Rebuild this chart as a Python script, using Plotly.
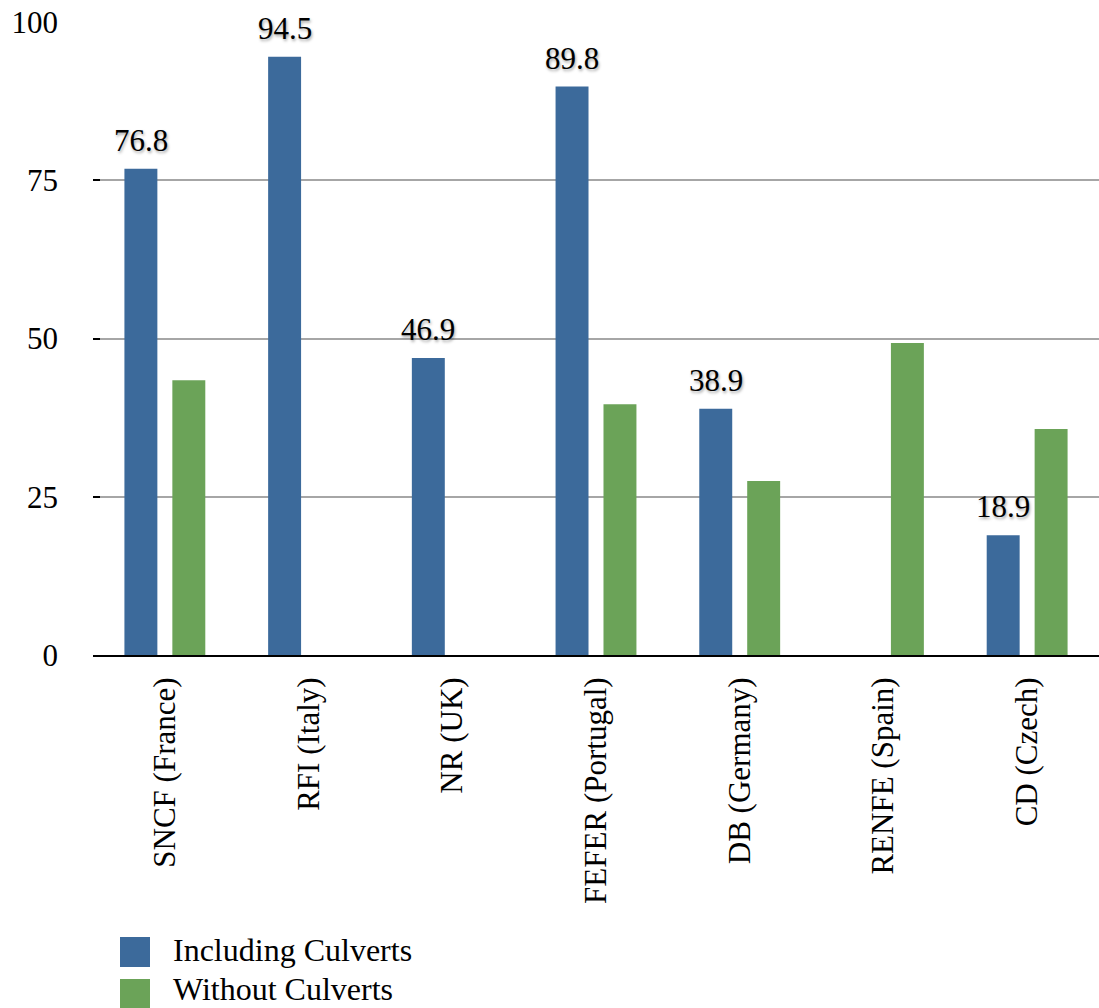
import plotly.graph_objects as go

categories = ["SNCF (France)", "RFI (Italy)", "NR (UK)", "FEFER (Portugal)",
              "DB (Germany)", "RENFE (Spain)", "CD (Czech)"]
including_culverts = [76.8, 94.5, 46.9, 89.8, 38.9, None, 18.9]
without_culverts = [43.4, None, None, 39.6, 27.5, 49.3, 35.7]
series_names = ["Including Culverts", "Without Culverts"]
y_ticks = [0, 25, 50, 75, 100]

BLUE = "#3c6a9b"
GREEN = "#6ba358"
FONT = "Liberation Serif, Times New Roman, serif"

W, H = 1099, 1008
ML, MR, MT, MB = 93, 0, 22, 353
PW, PH = W - ML - MR, H - MT - MB

fig = go.Figure()
fig.add_trace(go.Bar(x=categories, y=including_culverts, name=series_names[0],
                     marker=dict(color=BLUE, line=dict(width=0))))
fig.add_trace(go.Bar(x=categories, y=without_culverts, name=series_names[1],
                     marker=dict(color=GREEN, line=dict(width=0))))

annotations = []
for cat, v in zip(categories, including_culverts):
    if v is None:
        continue
    annotations.append(dict(x=cat, y=v, xref="x", yref="y", text=f"{v:.1f}",
                            showarrow=False, xanchor="center", yanchor="bottom",
                            xshift=-24, yshift=9,
                            font=dict(family=FONT, size=31, color="black",
                                      shadow="1px 2px 3px rgba(0,0,0,0.35)")))

# manual legend (large square swatches)
def px_x(px):
    return (px - ML) / PW

def px_y(py):
    return (H - MB - py) / PH

shapes = []
legend_rows = [(937, 967, 969, BLUE, series_names[0]),
               (979, 1008, 1008, GREEN, series_names[1])]
for y0, y1, ytext, col, name in legend_rows:
    shapes.append(dict(type="rect", xref="paper", yref="paper",
                       x0=px_x(120), x1=px_x(150), y0=px_y(y1), y1=px_y(y0),
                       fillcolor=col, line=dict(width=0)))
    annotations.append(dict(x=px_x(172), y=px_y(ytext), xref="paper", yref="paper",
                            text=name, showarrow=False, xanchor="left", yanchor="bottom",
                            borderpad=0,
                            font=dict(family=FONT, size=32, color="black")))

fig.update_layout(
    width=W, height=H,
    margin=dict(l=ML, r=MR, t=MT, b=MB, pad=0),
    paper_bgcolor="white", plot_bgcolor="white",
    barmode="group", bargap=0.333, bargroupgap=0.3125,
    showlegend=False,
    font=dict(family=FONT, size=31, color="black"),
    annotations=annotations,
    shapes=shapes,
)
fig.update_xaxes(type="category", range=[-0.5, 6.5], tickangle=-90,
                 showline=True, linecolor="black", linewidth=2,
                 showgrid=False, ticks="", ticklabelstandoff=8,
                 tickfont=dict(family=FONT, size=31, color="black"))
fig.update_yaxes(range=[0, 100], tickvals=y_ticks, showgrid=True,
                 gridcolor="#a6a6a6", gridwidth=2, zeroline=False,
                 showline=False, ticks="inside", ticklen=7, tickwidth=2,
                 tickcolor="black", ticklabelstandoff=34,
                 tickfont=dict(family=FONT, size=31, color="black"))

fig.write_html("out.html")
